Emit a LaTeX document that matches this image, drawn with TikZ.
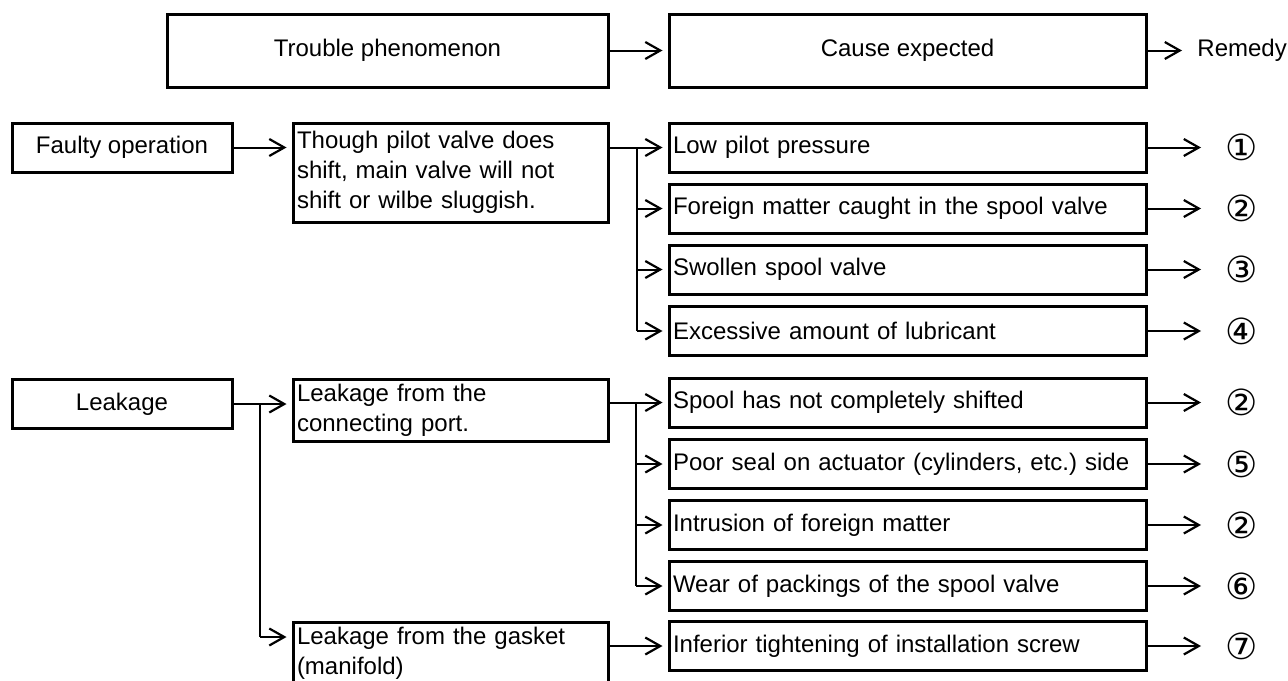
\documentclass[tikz,border=0pt]{standalone}
\usepackage{fontspec}
\setmainfont{Liberation Sans}
\newfontfamily\circfont{DejaVu Sans}
\usepackage{tikz}
\usetikzlibrary{arrows.meta}
\tikzset{
	box/.style={draw, line width=1.5pt, inner sep=2pt, minimum height=24.5pt},
	cause/.style={box, text width=234.5pt, align=left},
	remedy/.style={anchor=west, minimum width=35pt, inner sep=0pt, font={\fontsize{18}{20}\circfont}},
	flow/.style={line width=1pt, shorten >=2.5pt, -{Straight Barb[length=7.5pt,width=8.5pt,line width=1.1pt]}},
	tie/.style={line width=0.6pt}
}

\begin{document}
\begin{tikzpicture}[x=0.5pt, y=-0.5pt, font=\fontsize{12}{15}\selectfont]
	\useasboundingbox (0,0) rectangle (1288,680);
	\node[box, minimum width=220.5pt, minimum height=36.5pt] (hTrouble) at (387.5,50.5) {Trouble phenomenon};
	\node[box, minimum width=238.5pt, minimum height=36.5pt] (hCause) at (907.5,50.5) {Cause expected};
	\node[anchor=west, inner xsep=5pt, inner ysep=0pt] (hRemedy) at (1187,50.5) {Remedy};
	\draw[flow] (hTrouble) -- (hCause);
	\draw[flow] (hCause) -- (hRemedy);

	\foreach \causeName/\yCoord/\causeText/\remedyText in {c1/147.5/Low pilot pressure/①, c2/208.5/Foreign matter caught in the spool valve/②, c3/269.5/Swollen spool valve/③, c4/331/Excessive amount of lubricant/④, c5/402.5/Spool has not completely shifted/②, c6/464/{Poor seal on actuator (cylinders, etc.)\ side}/⑤, c7/525/Intrusion of foreign matter/②, c8/586/Wear of packings of the spool valve/⑥, c9/646/Inferior tightening of installation screw/⑦}
	{
		\node[cause] (\causeName) at (907.5,\yCoord) {\causeText};
		\node[remedy] (r\causeName) at (1206,\yCoord) {\remedyText};
		\draw[flow] (\causeName) -- (r\causeName);
	}

	\node[box, minimum width=110pt] (faulty) at (122,147.5) {Faulty operation};
	\node[box, minimum width=110pt] (leak) at (122,404) {Leakage};
	\node[box, text width=153.5pt, align=left, minimum height=49.5pt] (though) at (450.5,172.5) {Though pilot valve does\\shift, main valve will not\\shift or wilbe sluggish.};
	\node[box, text width=153.5pt, align=left, minimum height=31pt] (port) at (450.5,410) {Leakage from the\\connecting port.};
	\node[box, text width=153.5pt, align=left, minimum height=31pt] (gasket) at (450.5,653) {Leakage from the gasket\\(manifold)};

	\coordinate (jThough) at (637,0);
	\coordinate (jLeak) at (260,0);
	\coordinate (jPort) at (636,0);
	\coordinate (gLevel) at (0,637);

	\draw[flow] (faulty.east) -- (faulty.east -| though.west);
	\draw[flow] (though.east |- c1.west) -- (c1.west);
	\draw[tie] (jThough |- c1.west) -- (jThough |- c4.west);
	\foreach \causeName in {c2,c3,c4}
		\draw[flow] (jThough |- \causeName.west) -- (\causeName.west);

	\draw[flow] (leak.east) -- (leak.east -| port.west);
	\draw[tie] (jLeak |- leak.east) -- (jLeak |- gLevel);
	\draw[flow] (jLeak |- gLevel) -- (gasket.west |- gLevel);
	\draw[flow] (port.east |- c5.west) -- (c5.west);
	\draw[tie] (jPort |- c5.west) -- (jPort |- c8.west);
	\foreach \causeName in {c6,c7,c8}
		\draw[flow] (jPort |- \causeName.west) -- (\causeName.west);
	\draw[flow] (gasket.east |- c9.west) -- (c9.west);
\end{tikzpicture}
\end{document}
